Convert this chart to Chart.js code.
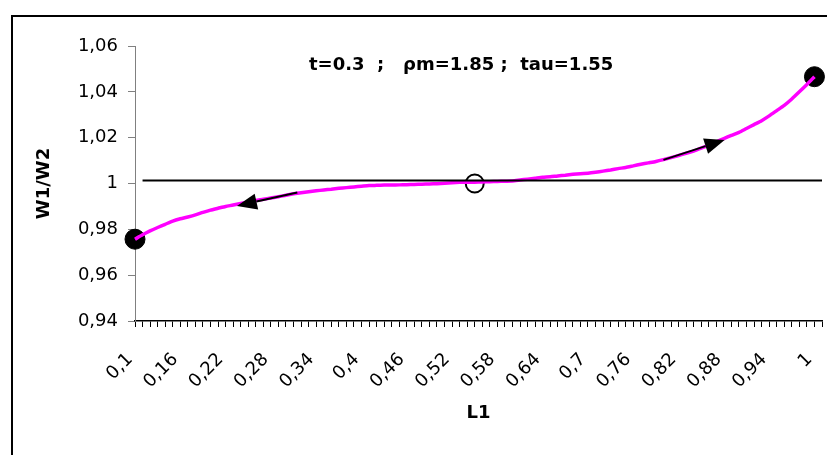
<!DOCTYPE html>
<html>
<head>
<meta charset="utf-8">
<script src="https://cdn.jsdelivr.net/npm/chart.js@4.4.1/dist/chart.umd.min.js"></script>
<style>
html,body{margin:0;padding:0;background:#fff;}
#wrap{width:827px;height:455px;position:relative;}
</style>
</head>
<body>
<div id="wrap"><canvas id="c" width="827" height="455"></canvas></div>
<script>
// ---- data ----
const L1 = [0.10,0.11,0.12,0.13,0.14,0.15,0.16,0.17,0.18,0.19,
            0.20,0.21,0.22,0.23,0.24,0.25,0.26,0.27,0.28,0.29,
            0.30,0.31,0.32,0.33,0.34,0.35,0.36,0.37,0.38,0.39,
            0.40,0.41,0.42,0.43,0.44,0.45,0.46,0.47,0.48,0.49,
            0.50,0.51,0.52,0.53,0.54,0.55,0.56,0.57,0.58,0.59,
            0.60,0.61,0.62,0.63,0.64,0.65,0.66,0.67,0.68,0.69,
            0.70,0.71,0.72,0.73,0.74,0.75,0.76,0.77,0.78,0.79,
            0.80,0.81,0.82,0.83,0.84,0.85,0.86,0.87,0.88,0.89,
            0.90,0.91,0.92,0.93,0.94,0.95,0.96,0.97,0.98,0.99,
            1.00,1.01];
const W1W2 = [0.9757,0.9776,0.9793,0.9808,0.9822,0.9836,0.9846,0.9854,0.9863,0.9874,
              0.9884,0.9892,0.9900,0.9906,0.9913,0.9919,0.9926,0.9931,0.9937,0.9942,
              0.9949,0.9955,0.9960,0.9964,0.9968,0.9972,0.9975,0.9979,0.9982,0.9985,
              0.9988,0.9991,0.9992,0.9993,0.9993,0.9994,0.9995,0.9996,0.9997,0.9998,
              0.9999,1.0001,1.0003,1.0005,1.0006,1.0006,1.0007,1.0008,1.0009,1.0010,
              1.0011,1.0015,1.0019,1.0023,1.0027,1.0029,1.0033,1.0036,1.0040,1.0043,
              1.0045,1.0049,1.0054,1.0059,1.0065,1.0070,1.0077,1.0084,1.0090,1.0096,
              1.0104,1.0113,1.0122,1.0132,1.0141,1.0154,1.0168,1.0182,1.0196,1.0210,
              1.0223,1.0240,1.0257,1.0274,1.0295,1.0318,1.0341,1.0369,1.0400,1.0432,
              1.0466];
const tickLabels = ['0,1','0,16','0,22','0,28','0,34','0,4','0,46','0,52','0,58',
                    '0,64','0,7','0,76','0,82','0,88','0,94','1'];
const yTickValues = [0.94,0.96,0.98,1.00,1.02,1.04,1.06];
const refLineX = ['0,11','1,01'];
const refLineY = [1.0013,1.0013];
const endPointX = ['0,1','1'];
const endPointY = [0.9757,1.0466];
const equilX = ['0,55'];
const equilY = [1.0];
const arrowFromX = [21.5,70];
const arrowFromY = [0.9961,1.0103];
const arrowToX = [13.5,78.1];
const arrowToY = [0.9902,1.0190];
const noteText = 't=0.3  ;   \u03c1m=1.85 ;  tau=1.55';
const noteX = 43.2, noteY = 1.0517;

// ---- build ----
const labels = L1.map(v => String(v).replace('.', ','));
const FONT = 'DejaVu Sans';

const deco = {
  id: 'deco',
  beforeDraw(chart) {
    const ctx = chart.ctx;
    ctx.save();
    ctx.fillStyle = '#fff';
    ctx.fillRect(0, 0, chart.width, chart.height);
    ctx.strokeStyle = '#000';
    ctx.lineWidth = 2;
    ctx.strokeRect(12, 16, chart.width + 40, chart.height + 40);
    ctx.restore();
  },
  afterDatasetsDraw(chart) {
    const ctx = chart.ctx;
    const xs = chart.scales.x, ys = chart.scales.y;
    ctx.save();
    for (let k = 0; k < arrowFromX.length; k++) {
      const x0 = xs.getPixelForValue(arrowFromX[k]), y0 = ys.getPixelForValue(arrowFromY[k]);
      const x1 = xs.getPixelForValue(arrowToX[k]), y1 = ys.getPixelForValue(arrowToY[k]);
      const a = Math.atan2(y1 - y0, x1 - x0);
      const hl = 20, hw = 8;
      const bx = x1 - hl * Math.cos(a), by = y1 - hl * Math.sin(a);
      ctx.strokeStyle = '#000';
      ctx.lineWidth = 2;
      ctx.beginPath(); ctx.moveTo(x0, y0); ctx.lineTo(bx, by); ctx.stroke();
      ctx.fillStyle = '#000';
      ctx.beginPath();
      ctx.moveTo(x1, y1);
      ctx.lineTo(bx + hw * Math.sin(a), by - hw * Math.cos(a));
      ctx.lineTo(bx - hw * Math.sin(a), by + hw * Math.cos(a));
      ctx.closePath(); ctx.fill();
    }
    ctx.fillStyle = '#000';
    ctx.font = 'bold 18px "' + FONT + '"';
    ctx.textAlign = 'center';
    ctx.textBaseline = 'middle';
    ctx.fillText(noteText, xs.getPixelForValue(noteX), ys.getPixelForValue(noteY));
    ctx.restore();
  }
};

new Chart(document.getElementById('c'), {
  type: 'line',
  data: {
    labels: labels,
    datasets: [
      {
        label: 'ref',
        data: refLineX.map((x, i) => ({x: x, y: refLineY[i]})),
        borderColor: '#000', borderWidth: 2, pointRadius: 0, tension: 0
      },
      {
        label: 'W1/W2',
        data: W1W2,
        borderColor: '#ff00ff', borderWidth: 3.5, pointRadius: 0, tension: 0.2
      },
      {
        label: 'ends',
        data: endPointX.map((x, i) => ({x: x, y: endPointY[i]})),
        showLine: false, pointRadius: 10, pointBackgroundColor: '#000',
        pointBorderColor: '#000', pointBorderWidth: 1, clip: false
      },
      {
        label: 'equil',
        data: equilX.map((x, i) => ({x: x, y: equilY[i]})),
        showLine: false, pointRadius: 9, pointBackgroundColor: '#fff',
        pointBorderColor: '#000', pointBorderWidth: 2
      }
    ]
  },
  options: {
    responsive: false,
    devicePixelRatio: 1,
    animation: false,
    layout: { autoPadding: false, padding: { left: 12, top: 46, right: 5, bottom: 0 } },
    plugins: { legend: { display: false }, tooltip: { enabled: false } },
    scales: {
      x: {
        type: 'category',
        offset: false,
        grid: { display: true, drawOnChartArea: false, drawTicks: true, tickLength: 6, color: '#000', lineWidth: 1 },
        border: { display: true, color: '#000', width: 1.5 },
        ticks: {
          autoSkip: false, maxRotation: 45, minRotation: 45, padding: 22, labelOffset: -5,
          color: '#000', font: { family: FONT, size: 18 },
          callback: function (val) {
            const lab = this.getLabelForValue(val);
            return tickLabels.includes(lab) ? lab : '';
          }
        },
        title: { display: true, text: 'L1', color: '#000',
                 font: { family: FONT, size: 18, weight: 'bold' },
                 padding: { top: 0, bottom: 31 } },
        afterFit(s) { s.height = 134; s.paddingLeft = 0; s.paddingRight = 0; }
      },
      y: {
        min: yTickValues[0], max: yTickValues[yTickValues.length - 1],
        grid: { display: true, drawOnChartArea: false, drawTicks: true, tickLength: 7, color: '#808080' },
        border: { display: true, color: '#808080', width: 1 },
        afterBuildTicks(s) { s.ticks = yTickValues.map(v => ({value: v})); },
        ticks: {
          padding: 10, color: '#000', font: { family: FONT, size: 18 },
          callback: v => String(parseFloat(Number(v).toFixed(2))).replace('.', ',')
        },
        title: { display: true, text: 'W1/W2', color: '#000',
                 font: { family: FONT, size: 18, weight: 'bold' },
                 padding: { top: 22, bottom: 0 } },
        afterFit(s) { s.width = 123; s.paddingTop = 0; s.paddingBottom = 0; }
      }
    }
  },
  plugins: [deco]
});
</script>
</body>
</html>
